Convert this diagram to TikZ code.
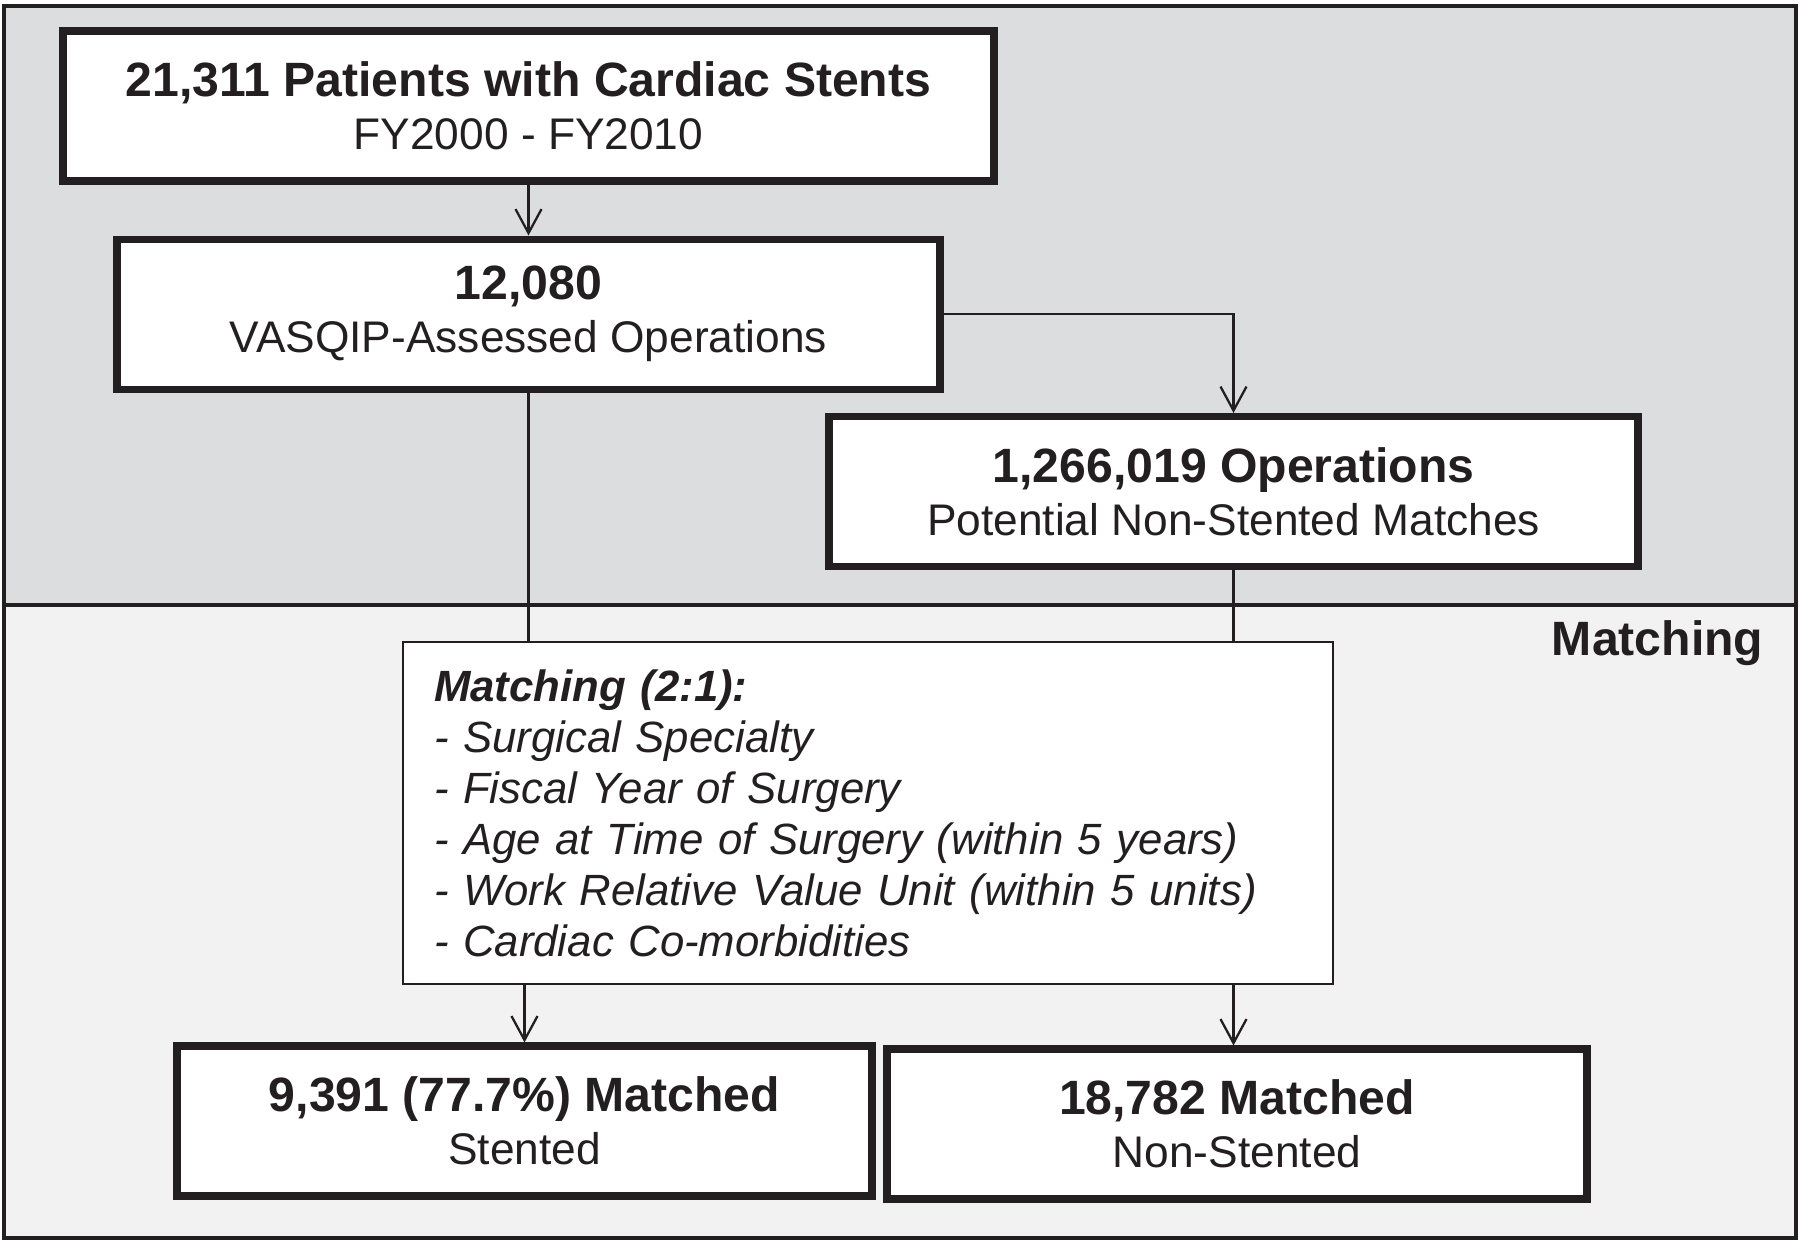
\documentclass[tikz,border=0pt]{standalone}
\usepackage{fontspec}
\setmainfont{Liberation Sans}
\usetikzlibrary{arrows.meta, positioning, calc}
\definecolor{inkgray}{HTML}{231F20}
\definecolor{topshade}{HTML}{DCDDDF}
\definecolor{bottomshade}{HTML}{F2F2F2}
\newcommand{\boxhead}[1]{{\fontsize{13.7}{15.1}\selectfont\bfseries #1}}
\tikzset{
    stagebox/.style={rectangle, draw=inkgray, fill=white, line width=2pt, minimum height=1.5cm, inner sep=0pt, align=center, text=inkgray, font=\fontsize{12.6}{15.1}\selectfont},
    criteriabox/.style={rectangle, draw=inkgray, fill=white, line width=0.6pt, inner xsep=0.31cm, align=left, text=inkgray, font=\fontsize{12.45}{14.5}\selectfont\itshape},
    regionbox/.style={draw=inkgray, line width=1.4pt},
    arrow/.style={-{Straight Barb[length=2.4mm, width=2.6mm]}, line width=0.65pt, draw=inkgray},
    link/.style={line width=0.65pt, draw=inkgray},
}

\begin{document}
\begin{tikzpicture}
    \useasboundingbox (0,0) rectangle (18,-12.42);

    % Regions
    \draw[regionbox, fill=topshade] (0.04,-0.06) rectangle (17.96,-6.05);
    \draw[regionbox, fill=bottomshade] (0.04,-6.05) rectangle (17.96,-12.38);
    \node[anchor=east, inner sep=0pt, text=inkgray, font=\fontsize{13.7}{15.1}\selectfont\bfseries] (matchlabel) at (17.64,-6.43) {Matching};

    % Nodes
    \node[stagebox, minimum width=9.31cm] (cohort) at (5.285,-1.06) {\boxhead{21,311 Patients with Cardiac Stents}\\FY2000 - FY2010};
    \node[stagebox, minimum width=8.23cm, below=0.51cm of cohort] (vasqip) {\boxhead{12,080}\\VASQIP-Assessed Operations};
    \node[stagebox, minimum width=8.09cm] (potential) at (12.335,-4.915) {\boxhead{1,266,019 Operations}\\Potential Non-Stented Matches};

    \node[criteriabox, text width=8.68cm, minimum height=3.42cm] (matching) at (8.68,-8.13) {\textbf{Matching (2:1):}\\- Surgical Specialty\\- Fiscal Year of Surgery\\- Age at Time of Surgery (within 5 years)\\- Work Relative Value Unit (within 5 units)\\- Cardiac Co-morbidities};

    \node[stagebox, minimum width=6.95cm] (stented) at (5.245,-11.21) {\boxhead{9,391 (77.7\%) Matched}\\Stented};
    \node[stagebox, minimum width=7.0cm] (nonstented) at (12.37,-11.24) {\boxhead{18,782 Matched}\\Non-Stented};

    % Connections
    \draw[arrow] (cohort) -- (vasqip);
    \draw[arrow] (vasqip.east) -| (potential.north);
    \draw[link] (vasqip.south) -- (vasqip.south |- matching.north);
    \draw[link] (potential.south) -- (potential.south |- matching.north);
    \draw[arrow] (matching.south -| stented) -- (stented.north);
    \draw[arrow] (matching.south -| potential) -- (potential |- nonstented.north);
\end{tikzpicture}
\end{document}
